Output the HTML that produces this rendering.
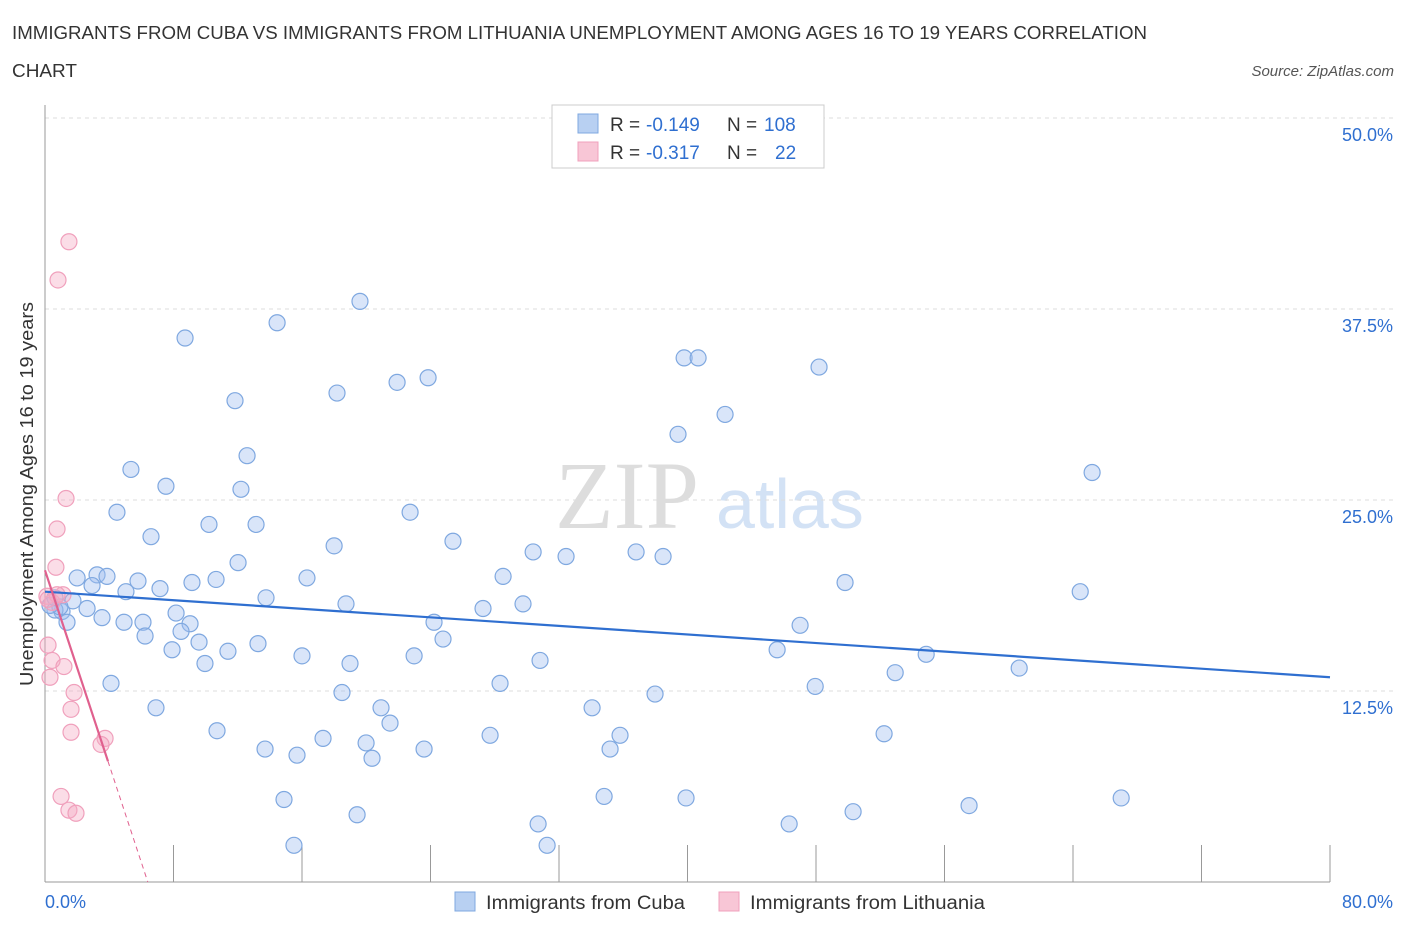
<!DOCTYPE html>
<html><head><meta charset="utf-8"><style>
body{margin:0;background:#fff;font-family:"Liberation Sans",sans-serif;}
svg text{font-family:"Liberation Sans",sans-serif;}
</style></head><body>
<svg id="chart" width="1406" height="930" xmlns="http://www.w3.org/2000/svg">
<text x="12" y="39" font-size="18" fill="#333" textLength="1135" lengthAdjust="spacingAndGlyphs">IMMIGRANTS FROM CUBA VS IMMIGRANTS FROM LITHUANIA UNEMPLOYMENT AMONG AGES 16 TO 19 YEARS CORRELATION</text>
<text x="12" y="77" font-size="18" fill="#333" textLength="65" lengthAdjust="spacingAndGlyphs">CHART</text>
<text x="1394" y="76" font-size="15" fill="#555" font-style="italic" text-anchor="end">Source: ZipAtlas.com</text>
<text x="555" y="528" font-size="96" fill="#ddd" style="font-family:'Liberation Serif',serif">ZIP</text>
<text x="716" y="528" font-size="70" fill="#d3e2f5">atlas</text>
<g id="grid"></g>
<g id="axes"></g>
<g id="marks"></g>
<text transform="translate(33,494) rotate(-90)" font-size="18" fill="#333" text-anchor="middle" textLength="384" lengthAdjust="spacingAndGlyphs">Unemployment Among Ages 16 to 19 years</text>
<g>
<rect x="552" y="105" width="272" height="63" fill="#fff" stroke="#ccc"/>
<rect x="578" y="114" width="20" height="19" fill="#b8d0f2" stroke="#7fa8e0"/>
<rect x="578" y="142" width="20" height="19" fill="#f8c6d6" stroke="#f0a0bc"/>
<text x="610" y="131" font-size="19" fill="#333">R =</text>
<text x="646" y="131" font-size="19" fill="#2f6fd0">-0.149</text>
<text x="727" y="131" font-size="19" fill="#333">N =</text>
<text x="764" y="131" font-size="19" fill="#2f6fd0">108</text>
<text x="610" y="159" font-size="19" fill="#333">R =</text>
<text x="646" y="159" font-size="19" fill="#2f6fd0">-0.317</text>
<text x="727" y="159" font-size="19" fill="#333">N =</text>
<text x="775" y="159" font-size="19" fill="#2f6fd0">22</text>
</g>
<g>
<rect x="455" y="892" width="20" height="19" fill="#b8d0f2" stroke="#7fa8e0"/>
<text x="486" y="909" font-size="19" fill="#333" textLength="199" lengthAdjust="spacingAndGlyphs">Immigrants from Cuba</text>
<rect x="719" y="892" width="20" height="19" fill="#f8c6d6" stroke="#f0a0bc"/>
<text x="750" y="909" font-size="19" fill="#333" textLength="235" lengthAdjust="spacingAndGlyphs">Immigrants from Lithuania</text>
</g>
</svg>
<script>
const yTicks=[12.5,25,37.5,50];
const yTickLabels=["12.5%","25.0%","37.5%","50.0%"];
const xTickLabels=["0.0%","80.0%"];
const cubaX=[8.72,14.45,19.61,11.83,18.18,21.92,23.85,39.79,40.66,48.19,42.34,39.41,12.58,5.35,7.53,12.2,65.19,4.48,22.73,10.21,13.14,6.6,25.4,18.0,30.39,32.44,36.8,38.48,12.02,2.0,3.24,3.86,5.79,7.16,9.15,10.65,16.31,28.52,49.81,64.45,2.93,5.04,13.76,18.74,27.27,29.76,1.74,1.06,2.62,3.55,8.16,9.03,4.92,6.1,6.23,8.47,9.59,24.22,24.78,47.01,13.26,7.91,11.39,16.0,22.98,45.58,54.86,9.96,18.99,30.82,52.93,60.65,4.11,28.33,47.95,18.49,37.98,6.91,20.92,34.06,21.48,10.71,17.31,27.71,35.8,52.24,13.7,15.69,19.99,23.6,35.18,20.36,14.88,34.81,39.91,57.53,67.0,19.43,50.31,30.7,46.33,15.5,31.26,0.62,0.93,0.31,1.37,0.62];
const cubaY=[35.6,36.6,38.0,31.5,32.0,32.7,33.0,34.3,34.3,33.7,30.6,29.3,27.9,27.0,25.9,25.7,26.8,24.2,24.2,23.4,23.4,22.6,22.3,22.0,21.6,21.3,21.6,21.3,20.9,19.9,20.1,20.0,19.7,19.2,19.6,19.8,19.9,20.0,19.6,19.0,19.4,19.0,18.6,18.2,17.9,18.2,18.4,17.7,17.9,17.3,17.6,16.9,17.0,17.0,16.1,16.4,15.7,17.0,15.9,16.8,15.6,15.2,15.1,14.8,14.8,15.2,14.9,14.3,14.3,14.5,13.7,14.0,13.0,13.0,12.8,12.4,12.3,11.4,11.4,11.4,10.4,9.9,9.4,9.6,9.6,9.7,8.7,8.3,9.1,8.7,8.7,8.1,5.4,5.6,5.5,5.0,5.5,4.4,4.6,3.8,3.8,2.4,2.4,17.8,18.0,18.1,17.0,18.6];
const lithX=[1.49,0.81,1.31,0.75,0.68,0.12,0.44,1.12,0.75,0.19,0.44,1.18,0.31,1.81,1.62,1.62,3.74,3.49,1.0,1.49,1.93,0.19];
const lithY=[41.9,39.4,25.1,23.1,20.6,18.7,18.3,18.8,18.8,15.5,14.5,14.1,13.4,12.4,11.3,9.8,9.4,9.0,5.6,4.7,4.5,18.5];
const cubaTrend=[19.0,13.4];
const lithTrend=[20.4,3.92,6.4];
const NS="http://www.w3.org/2000/svg";
const X0=45,X1=1330,Y0=882,YT=118;
const sx=v=>X0+(v/80)*(X1-X0);
const sy=v=>Y0-(v/50)*(Y0-YT);
function mk(tag,attrs,parent){const e=document.createElementNS(NS,tag);for(const k in attrs)e.setAttribute(k,attrs[k]);parent.appendChild(e);return e;}
const grid=document.getElementById('grid'),axes=document.getElementById('axes'),marks=document.getElementById('marks');
yTicks.forEach((t,i)=>{
 const l=mk('line',{x1:X0,x2:1394,y1:sy(t),y2:sy(t),stroke:'#ddd','stroke-dasharray':'4,4'},grid);
 
 
 const tx=mk('text',{x:1393,y:sy(t)+23,'font-size':18,fill:'#2f6fd0','text-anchor':'end'},grid);
 tx.textContent=yTickLabels[i];
 
 
});
const ax=mk('line',{x1:X0,x2:X1,y1:Y0,y2:Y0,stroke:'#999'},axes);


const ay=mk('line',{x1:X0,x2:X0,y1:105,y2:Y0,stroke:'#999'},axes);


for(let i=1;i<=10;i++){
 const t=mk('line',{x1:sx(i*8),x2:sx(i*8),y1:Y0-37,y2:Y0,stroke:'#999'},axes);
 
 
}
[[0,'start',45],[80,'end',1393]].forEach((d,i)=>{
 const t=mk('text',{x:d[2],y:908,'font-size':18,fill:'#2f6fd0','text-anchor':d[1]},axes);
 t.textContent=xTickLabels[i];
 
 
});
cubaX.forEach((v,i)=>{
 const c=mk('circle',{cx:sx(v),cy:sy(cubaY[i]),r:8,fill:'rgba(160,190,240,0.4)',stroke:'#7fa8e0','stroke-width':1.2},marks);
 
 
});
lithX.forEach((v,i)=>{
 const c=mk('circle',{cx:sx(v),cy:sy(lithY[i]),r:8,fill:'rgba(245,170,195,0.4)',stroke:'#f0a0bc','stroke-width':1.2},marks);
 
 
});
const bt=mk('line',{x1:sx(0),y1:sy(cubaTrend[0]),x2:sx(80),y2:sy(cubaTrend[1]),stroke:'#2f6fd0','stroke-width':2.2},marks);


const lf=x=>lithTrend[0]*(1-x/lithTrend[2]);
const pt=mk('line',{x1:sx(0),y1:sy(lf(0)),x2:sx(lithTrend[1]),y2:sy(lf(lithTrend[1])),stroke:'#e0608e','stroke-width':2.2},marks);


const pd=mk('line',{x1:sx(lithTrend[1]),y1:sy(lf(lithTrend[1])),x2:sx(lithTrend[2]),y2:sy(0),stroke:'#e0608e','stroke-width':1,'stroke-dasharray':'5,4'},marks);


</script>
</body></html>
